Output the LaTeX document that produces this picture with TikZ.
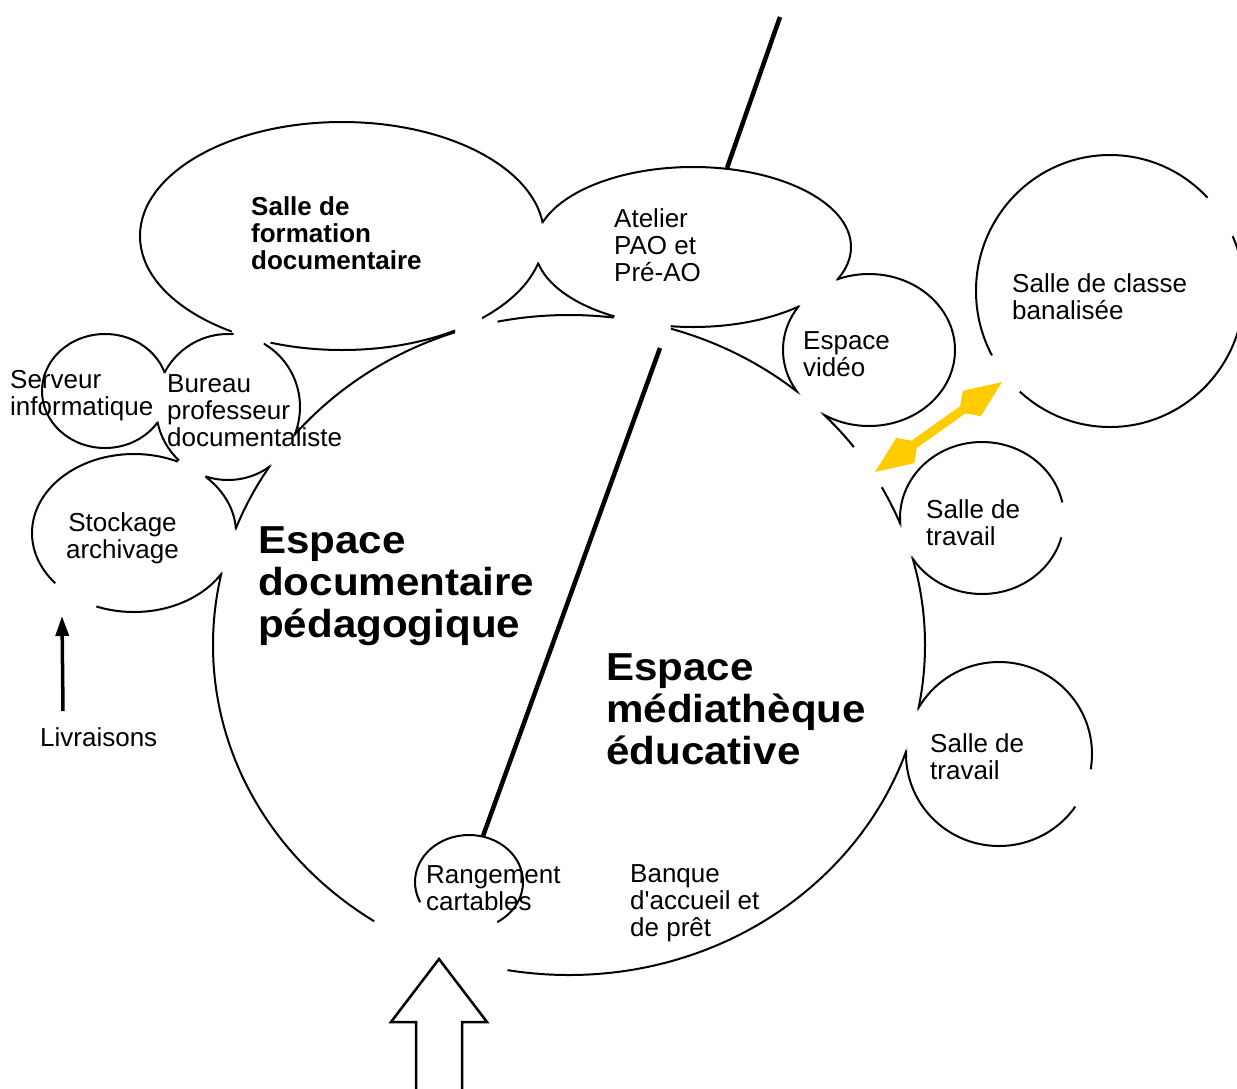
\documentclass[tikz,border=0pt]{standalone}
\usepackage{fontspec}
\newfontfamily\lib{Liberation Sans}
\newfontfamily\libwide{Liberation Sans}[FakeStretch=1.08]
\usetikzlibrary{arrows.meta}
\definecolor{ylw}{HTML}{FFCC00}
\tikzset{
  wall/.style={line width=2pt},
  partition/.style={line width=4.5pt},
  txt/.style={inner sep=0pt, anchor=base west, font=\lib\fontsize{26}{27}\selectfont},
  txtb/.style={txt, font=\lib\bfseries\fontsize{26}{27}\selectfont},
  bigtxt/.style={inner sep=0pt, anchor=base west, font=\libwide\bfseries\fontsize{39}{42}\selectfont},
}
% room outlines
\newcommand\shA{(342,236) ellipse [x radius=202pt, y radius=114pt]}
\newcommand\shB{(693,247) ellipse [x radius=158pt, y radius=80pt]}
\newcommand\shC{(869,350) ellipse [x radius=86pt, y radius=76pt]}
\newcommand\shE{(569,645) ellipse [x radius=356pt, y radius=330pt]}
\newcommand\shT{(982,518) ellipse [x radius=82pt, y radius=76pt]}
\newcommand\shU{(999,754) ellipse [x radius=93pt, y radius=92pt]}
\newcommand\shK{(1110,291) ellipse [x radius=134pt, y radius=136pt]}
\newcommand\shR{(469,882) ellipse [x radius=54pt, y radius=47pt]}
\newcommand\shS{(105,391) ellipse [x radius=63pt, y radius=57pt]}
\newcommand\shP{(228,407) ellipse [x radius=72pt, y radius=73pt]}
\newcommand\shG{(134,533) ellipse [x radius=102pt, y radius=79pt]}
\newcommand\hole[2]{(#1) circle [radius=#2pt]}
\newcommand\outside[1]{\clip (-60,-60) rectangle (1300,1150) #1;}
\begin{document}
\begin{tikzpicture}[x=1pt,y=-1pt]
\useasboundingbox (0,0) rectangle (1237,1088);
\clip (0,0) rectangle (1237,1088);

% Salle de formation documentaire
\begin{scope}[even odd rule]
\outside{\shB}\outside{\shE}\outside{\shP}
\outside{\hole{252,334}{20.5}}\outside{\hole{468,323}{15}}
\draw[wall] \shA;
\end{scope}
% Atelier PAO
\begin{scope}[even odd rule]
\outside{\shA}\outside{\shC}\outside{\shE}
\outside{\hole{641,330}{30}}
\draw[wall] \shB;
\end{scope}
% Espace video
\begin{scope}[even odd rule]
\outside{\shB}\outside{\shE}
\draw[wall] \shC;
\end{scope}
% big space
\begin{scope}[even odd rule]
\outside{\shA}\outside{\shB}\outside{\shC}\outside{\shT}\outside{\shU}
\outside{\shP}\outside{\shG}
\outside{\hole{476,326}{22}}\outside{\hole{641,330}{30}}
\outside{\hole{868,467}{24.5}}\outside{\hole{230,555}{18.5}}
\outside{\hole{440,948}{71}}
\draw[wall] \shE;
\end{scope}
% Salle de travail 1
\begin{scope}[even odd rule]
\outside{\shE}\outside{\hole{1066,520}{18}}
\draw[wall] \shT;
\end{scope}
% Salle de travail 2
\begin{scope}[even odd rule]
\outside{\shE}\outside{\hole{1088,790}{21}}
\draw[wall] \shU;
\end{scope}
% Salle de classe banalisee
\begin{scope}[even odd rule]
\outside{\hole{1000,378}{24}}\outside{\hole{1220,217}{23}}
\draw[wall] \shK;
\end{scope}
% Rangement cartables
\begin{scope}[even odd rule]
\outside{\hole{452,938}{48}}
\draw[wall] \shR;
\end{scope}
% Serveur
\begin{scope}[even odd rule]
\outside{\shP}
\draw[wall] \shS;
\end{scope}
% Bureau
\begin{scope}[even odd rule]
\outside{\shS}\outside{\shE}\outside{\shG}\outside{\shA}
\outside{\hole{248,341}{16}}\outside{\hole{190,472}{16}}
\draw[wall] \shP;
\end{scope}
% Stockage
\begin{scope}[even odd rule]
\outside{\shE}\outside{\shP}
\outside{\hole{230,555}{18.5}}\outside{\hole{190,472}{16}}\outside{\hole{74,598}{24}}
\draw[wall] \shG;
\end{scope}

% partition
\coordinate (pTop) at (780,17);
\coordinate (pAt) at (727,168);
\coordinate (pE) at (660,348);
\coordinate (pR) at (483,836);
\draw[partition] (pTop) -- (pAt);
\draw[partition] (pE) -- (pR);

% yellow double arrow
\fill[ylw] (875,472) -- (896.2,437.9) -- (911.6,440.6) -- (960.2,406.1) -- (962.8,390.8)
  -- (1002,382) -- (980.8,416.1) -- (965.4,413.4) -- (916.8,447.9) -- (914.2,463.2) -- cycle;

% entrance arrow
\draw[line width=2.5pt, line join=miter] (416,1100) -- (416,1022) -- (391,1022) -- (439,959)
  -- (487,1022) -- (462,1022) -- (462,1100);

% texts
\node[txtb] (formation) at (251,215) {\begin{tabular}[t]{@{}l@{}}Salle de\\formation\\documentaire\end{tabular}};
\node[txt] (atelier) at (614,227) {\begin{tabular}[t]{@{}l@{}}Atelier\\PAO et\\Pré-AO\end{tabular}};
\node[txt] (video) at (803,349) {\begin{tabular}[t]{@{}l@{}}Espace\\vidéo\end{tabular}};
\node[txt] (classe) at (1012,292) {\begin{tabular}[t]{@{}l@{}}Salle de classe\\banalisée\end{tabular}};
\node[txt] (serveur) at (10,388) {\begin{tabular}[t]{@{}l@{}}Serveur\\informatique\end{tabular}};
\node[txt] (bureau) at (167,392) {\begin{tabular}[t]{@{}l@{}}Bureau\\professeur\\documentaliste\end{tabular}};
\node[txt, anchor=base] (stockage) at (122.5,531) {\begin{tabular}[t]{@{}c@{}}Stockage\\archivage\end{tabular}};
\node[bigtxt] (edp) at (258,553) {\begin{tabular}[t]{@{}l@{}}Espace\\documentaire\\pédagogique\end{tabular}};
\node[txt] (travail1) at (926,518) {\begin{tabular}[t]{@{}l@{}}Salle de\\travail\end{tabular}};
\node[bigtxt] (eme) at (606,680) {\begin{tabular}[t]{@{}l@{}}Espace\\médiathèque\\éducative\end{tabular}};
\node[txt] (travail2) at (930,752) {\begin{tabular}[t]{@{}l@{}}Salle de\\travail\end{tabular}};
\node[txt] (livraisons) at (40,746) {Livraisons};
\node[txt] (rangement) at (426,883) {\begin{tabular}[t]{@{}l@{}}Rangement\\cartables\end{tabular}};
\node[txt] (banque) at (630,882) {\begin{tabular}[t]{@{}l@{}}Banque\\d'accueil et\\de prêt\end{tabular}};

% deliveries arrow
\coordinate (livTail) at (63,711);
\coordinate (livTip) at (62,616);
\draw[line width=3.5pt, -{Triangle[length=20pt,width=13pt]}] (livTail) -- (livTip);
\end{tikzpicture}
\end{document}
